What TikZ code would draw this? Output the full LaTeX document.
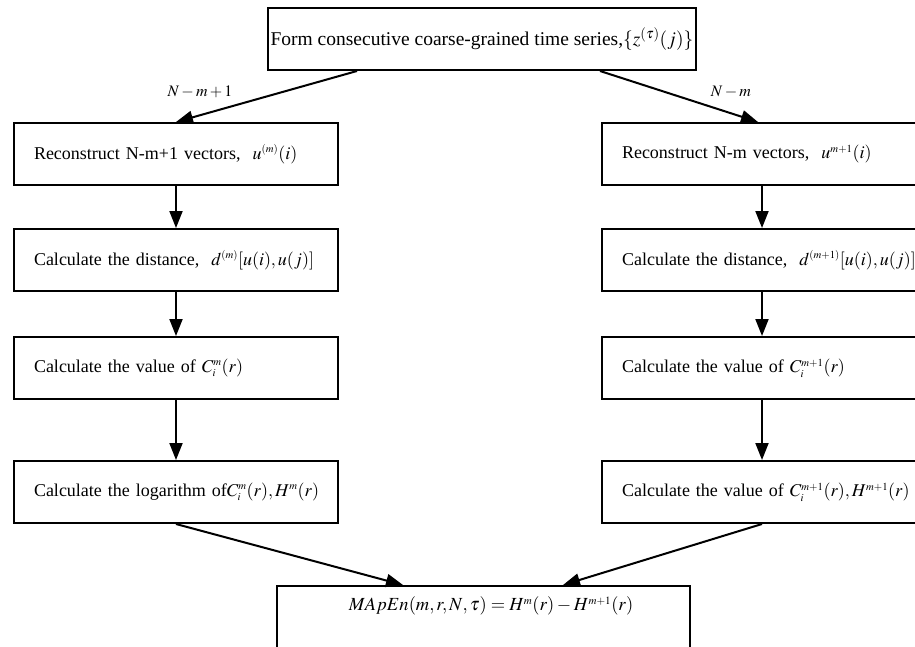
\documentclass[tikz,border=0pt]{standalone}
\usepackage{mathptmx}
\usepackage{fontspec}
\setmainfont{Liberation Serif}
\usetikzlibrary{arrows.meta,calc}
\newcommand{\ssp}[1]{^{\scriptscriptstyle #1}}
\newcommand{\ssb}[1]{_{\scriptscriptstyle #1}}
\begin{document}
\begin{tikzpicture}[x=1pt,y=-1pt,
  font=\fontsize{18}{21}\selectfont,
  box/.style={draw=black,line width=2pt,fill=white,minimum height=62pt,inner sep=0pt},
  leftbox/.style={box,text width=284pt,inner xsep=20pt,align=left},
  arr/.style={line width=2pt,-{Triangle[length=17pt,width=13pt]}},
  lab/.style={inner sep=0pt,font=\fontsize{16}{19}\selectfont}]
\useasboundingbox (0,0) rectangle (915,646);
\clip (0,0) rectangle (915,646);
\fill[white] (0,0) rectangle (915,646);
% top
\node[box,minimum width=428pt,font=\fontsize{19.5}{23}\selectfont] (top) at (482,39) {Form consecutive coarse-grained time series,$\{z^{(\tau)}(j)\}$};
% left column
\node[leftbox] (l1) at (176,154) {\mbox{Reconstruct N-m+1 vectors, \ $u\ssp{(m)}(i)$}};
\node[leftbox] (l2) at (176,260) {\mbox{Calculate the distance, \ $d\ssp{(m)}[u(i),u(j)]$}};
\node[leftbox] (l3) at (176,368) {\mbox{Calculate the value of $C\ssb{i}\ssp{m}(r)$}};
\node[leftbox] (l4) at (176,492) {\mbox{Calculate the logarithm of$C\ssb{i}\ssp{m}(r),H\ssp{m}(r)$}};
% right column
\node[leftbox] (r1) at (764,154) {\mbox{Reconstruct N-m vectors, \ $u\ssp{m+1}(i)$}};
\node[leftbox] (r2) at (764,260) {\mbox{Calculate the distance, \ $d\ssp{(m+1)}[u(i),u(j)]$}};
\node[leftbox] (r3) at (764,368) {\mbox{Calculate the value of $C\ssb{i}\ssp{m+1}(r)$}};
\node[leftbox] (r4) at (764,492) {\mbox{Calculate the value of $C\ssb{i}\ssp{m+1}(r),H\ssp{m+1}(r)$}};
% bottom
\node[box,minimum width=413pt,minimum height=80pt,anchor=north] (bot) at (483,585) {};
\node[inner sep=0pt,font=\fontsize{18.5}{22}\selectfont] (formula) at (491,606) {$MApEn(m,r,N,\tau)=H\ssp{m}(r)-H\ssp{m+1}(r)$};
% labels
\node[lab] (la) at (200,92) {$N-m+1$};
\node[lab] (lb) at (731,92) {$N-m$};
% arrows
\draw[arr] ($(top.south)+(-125,0)$) -- (l1.north);
\draw[arr] ($(top.south)+(118,0)$) -- ($(r1.north)+(-6,0)$);
\draw[arr] (l1) -- (l2);
\draw[arr] (l2) -- (l3);
\draw[arr] (l3) -- (l4);
\draw[arr] ($(r1.south)+(-2,0)$) -- ($(r2.north)+(-2,0)$);
\draw[arr] ($(r2.south)+(-2,0)$) -- ($(r3.north)+(-2,0)$);
\draw[arr] ($(r3.south)+(-2,0)$) -- ($(r4.north)+(-2,0)$);
\draw[arr] (l4.south) -- ($(bot.north)+(-80,0)$);
\draw[arr] ($(r4.south)+(-2,0)$) -- ($(bot.north)+(80,0)$);
\end{tikzpicture}
\end{document}
